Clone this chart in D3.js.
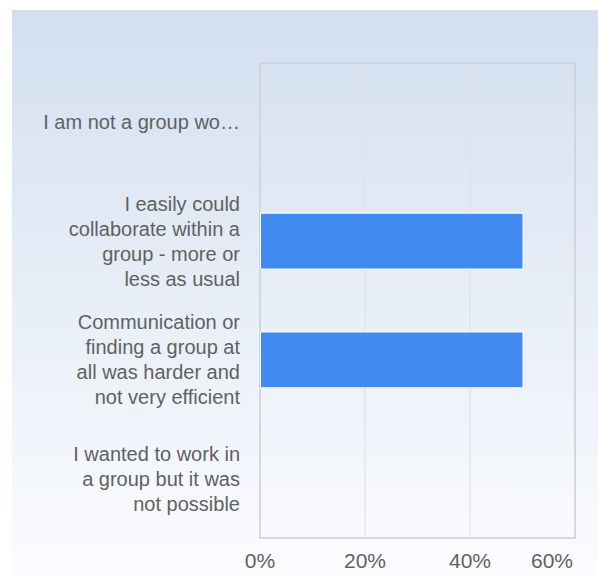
<!DOCTYPE html>
<html>
<head>
<meta charset="utf-8">
<script src="https://cdn.jsdelivr.net/npm/d3@7"></script>
<style>
html,body{margin:0;padding:0;background:#fff;}
svg{display:block;}
text{font-family:"Liberation Sans",Arial,sans-serif;}
</style>
</head>
<body>
<svg id="chart" width="598" height="575"></svg>
<script>
// Data
const categories = [
  "I am not a group wo…",
  "I easily could\ncollaborate within a\ngroup - more or\nless as usual",
  "Communication or\nfinding a group at\nall was harder and\nnot very efficient",
  "I wanted to work in\na group but it was\nnot possible"
];
const values = [0, 50, 50, 0];
const xTicks = [0, 20, 40, 60];
const xTickLabels = ["0%", "20%", "40%", "60%"];

const W = 598, H = 575;
const plot = {left: 260, top: 63, right: 575, bottom: 538};

const svg = d3.select("#chart");

// background gradient
const defs = svg.append("defs");
const grad = defs.append("linearGradient").attr("id","bg").attr("x1",0).attr("y1",0).attr("x2",0).attr("y2",1);
grad.append("stop").attr("offset","0%").attr("stop-color","#d3dff0");
grad.append("stop").attr("offset","100%").attr("stop-color","#fbfcfe");
svg.append("rect").attr("x",12).attr("y",10).attr("width",W-12).attr("height",H-10).attr("fill","url(#bg)");

const x = d3.scaleLinear().domain([0,60]).range([plot.left, plot.right]);
const y = d3.scaleBand().domain(categories).range([plot.top, plot.bottom]).paddingInner(0.53).paddingOuter(0.265);

// gridlines
svg.append("g").selectAll("line").data(xTicks.filter(t => t>0 && t<60)).join("line")
  .attr("x1", d=>x(d)).attr("x2", d=>x(d))
  .attr("y1", plot.top).attr("y2", plot.bottom)
  .attr("stroke","#e0e2e6").attr("stroke-width",1.2);

// plot border
svg.append("rect").attr("x",plot.left).attr("y",plot.top)
  .attr("width",plot.right-plot.left).attr("height",plot.bottom-plot.top)
  .attr("fill","none").attr("stroke","#cfd0d3").attr("stroke-width",1.6);

// bars
svg.append("g").selectAll("rect").data(categories.map((c,i)=>({c, v: values[i]})).filter(d=>d.v>0)).join("rect")
  .attr("x", x(0)+0.5)
  .attr("y", d=>y(d.c))
  .attr("width", d=>x(d.v)-x(0))
  .attr("height", y.bandwidth())
  .attr("fill","#418bf0")
  .attr("stroke","#ffffff").attr("stroke-width",1);

// y labels
const lh = 25;
const yl = svg.append("g");
categories.forEach(c => {
  const lines = c.split("\n");
  const cy = y(c) + y.bandwidth()/2;
  const t = yl.append("text").attr("text-anchor","end").attr("fill","#616161").attr("font-size","20px");
  lines.forEach((ln,i) => {
    t.append("tspan").attr("x", plot.left-20).attr("y", cy - (lines.length-1)/2*lh + 7 + i*lh).text(ln);
  });
});

// x tick labels
svg.append("g").selectAll("text").data(xTicks).join("text")
  .attr("x", (d,i)=> i===xTicks.length-1 ? x(d)-2 : x(d))
  .attr("y", 568)
  .attr("text-anchor", (d,i)=> i===xTicks.length-1 ? "end" : "middle")
  .attr("fill","#616161").attr("font-size","21px")
  .text((d,i)=>xTickLabels[i]);
</script>
</body>
</html>
